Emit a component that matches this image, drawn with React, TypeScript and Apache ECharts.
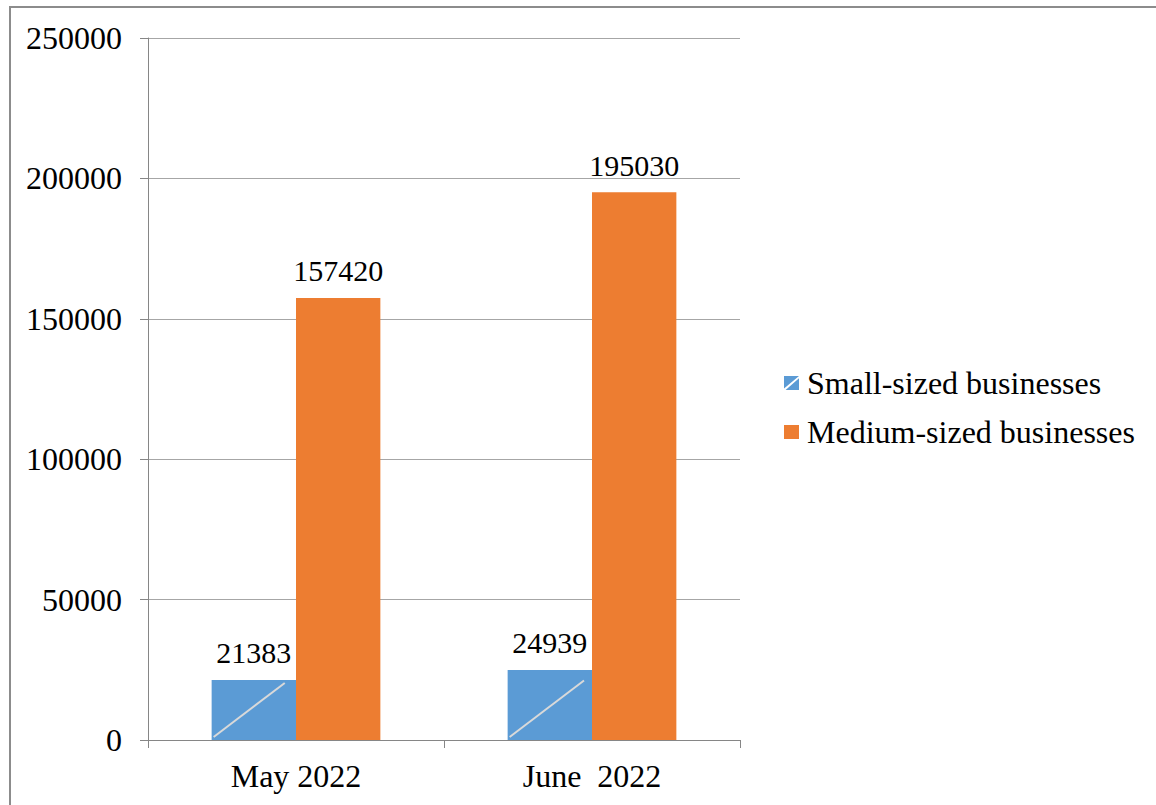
import React, { useEffect, useRef, useState } from "react";
import * as echarts from "echarts";

const categories = ["May 2022", "June  2022"];
const seriesNames = ["Small-sized businesses", "Medium-sized businesses"];
const smallValues = [21383, 24939];
const mediumValues = [157420, 195030];
const yMax = 250000;
const yInterval = 50000;

const FONT = "Liberation Serif";
const CAT_GAP = 0.43;

type Seg = { x1: number; y1: number; x2: number; y2: number };

export default function App() {
  const ref = useRef<HTMLDivElement>(null);
  const [segs, setSegs] = useState<Seg[]>([]);

  useEffect(() => {
    document.body.style.overflow = "hidden";
    const chart = echarts.init(ref.current!, undefined, { renderer: "svg" });
    const smallIcon =
      "path://M0,0 L15,0 L0,12.6 Z M1.6,14 L15,14 L15,2.2 Z";
    const labelStyle = {
      show: true,
      position: "top",
      distance: 12,
      fontFamily: FONT,
      fontSize: 30,
      color: "#000",
    };
    chart.setOption({
      animation: false,
      grid: { left: 148, top: 38, right: 416, bottom: 65 },
      legend: {
        orient: "vertical",
        left: 784,
        top: 365,
        padding: 0,
        itemWidth: 15,
        itemHeight: 14,
        itemGap: 13,
        selectedMode: false,
        data: [
          { name: seriesNames[0], icon: smallIcon },
          { name: seriesNames[1], icon: "rect" },
        ],
        textStyle: {
          fontFamily: FONT,
          fontSize: 32,
          color: "#000",
          lineHeight: 36,
          padding: [0, 0, 0, 3],
        },
      },
      xAxis: {
        type: "category",
        data: categories,
        axisLine: { show: true, lineStyle: { color: "#868686", width: 1 } },
        axisTick: { show: true, length: 8, lineStyle: { color: "#868686" } },
        axisLabel: { fontFamily: FONT, fontSize: 32, color: "#000", margin: 20 },
      },
      yAxis: {
        type: "value",
        min: 0,
        max: yMax,
        interval: yInterval,
        axisLine: { show: true, lineStyle: { color: "#868686", width: 1 } },
        axisTick: { show: true, length: 8, lineStyle: { color: "#868686" } },
        splitLine: { show: true, lineStyle: { color: "#a6a6a6", width: 1 } },
        axisLabel: {
          fontFamily: FONT,
          fontSize: 32,
          color: "#000",
          margin: 26,
          formatter: (v: number) => String(v),
        },
      },
      series: [
        {
          name: seriesNames[0],
          type: "bar",
          data: smallValues,
          barGap: "0%",
          barCategoryGap: CAT_GAP * 100 + "%",
          itemStyle: { color: "#5b9bd5" },
          label: labelStyle,
        },
        {
          name: seriesNames[1],
          type: "bar",
          data: mediumValues,
          barGap: "0%",
          barCategoryGap: CAT_GAP * 100 + "%",
          itemStyle: { color: "#ed7d31" },
          label: labelStyle,
        },
      ],
    });

    // light diagonal stroke inside each small-business bar, positioned from the chart's own scales
    const finder = { gridIndex: 0 };
    const p0 = chart.convertToPixel(finder, [0, 0]) as number[];
    const p1 = chart.convertToPixel(finder, [1, 0]) as number[];
    const band = Math.abs(p1[0] - p0[0]);
    const barW = (band * (1 - CAT_GAP)) / 2;
    const out: Seg[] = smallValues.map((v, i) => {
      const top = chart.convertToPixel(finder, [i, v]) as number[];
      const base = chart.convertToPixel(finder, [i, 0]) as number[];
      const left = base[0] - barW;
      const x1 = left + 2;
      const y1 = base[1] - 3;
      let x2 = left + barW - 8;
      let y2 = y1 - 0.76 * (x2 - x1);
      if (y2 < top[1] + 3) {
        y2 = top[1] + 3;
        x2 = x1 + (y1 - y2) / 0.76;
      }
      return { x1, y1, x2, y2 };
    });
    setSegs(out);

    return () => chart.dispose();
  }, []);

  return (
    <>
      <div
        ref={ref}
        style={{ position: "absolute", left: 0, top: 0, width: 1156, height: 805 }}
      />
      <svg
        width={1156}
        height={805}
        style={{ position: "absolute", left: 0, top: 0, pointerEvents: "none" }}
      >
        <line x1={9} y1={7} x2={1156} y2={7} stroke="#8c8c8c" strokeWidth={2} />
        <line x1={10} y1={6} x2={10} y2={805} stroke="#8c8c8c" strokeWidth={2} />
        {segs.map((s, i) => (
          <line
            key={i}
            x1={s.x1}
            y1={s.y1}
            x2={s.x2}
            y2={s.y2}
            stroke="#d9d9d9"
            strokeWidth={2}
          />
        ))}
      </svg>
    </>
  );
}
